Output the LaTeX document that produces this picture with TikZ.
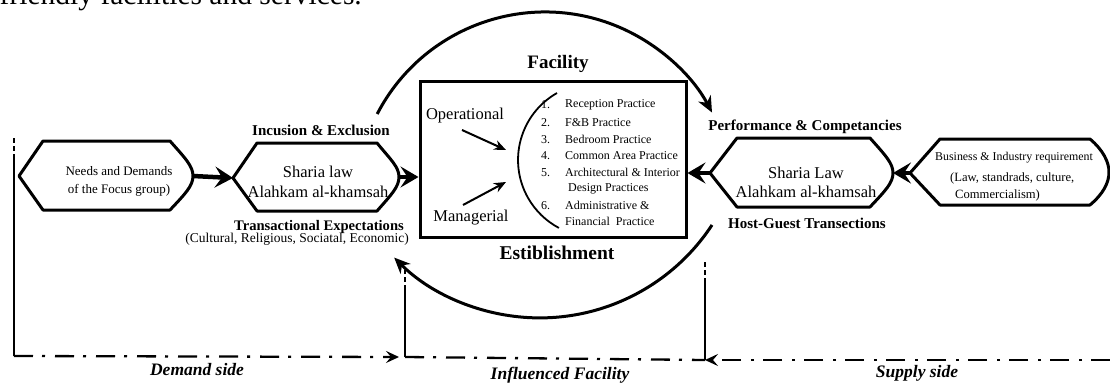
\documentclass[tikz,border=0pt]{standalone}
\usepackage{fontspec}
\setmainfont{Liberation Serif}
\usetikzlibrary{arrows.meta,calc}
\begin{document}
\begin{tikzpicture}[x=1pt,y=-1pt,
  every node/.style={inner sep=0pt},
  hexline/.style={line width=3pt,line join=round},
  fatarrow/.style={line width=4.5pt,-{Stealth[length=18pt,width=21pt,inset=7pt]}},
  arcarrow/.style={line width=3pt,-{Stealth[length=16pt,width=14pt,inset=5pt]}},
  thinarrow/.style={line width=2pt,-{Stealth[length=12pt,width=10pt,inset=4pt]}},
  dashdotline/.style={line width=2.3pt,dash pattern=on 19pt off 9pt on 3pt off 10pt},
  flowarrow/.style={dashdotline,-{Stealth[length=13pt,width=12pt,inset=5pt]}},
  shortdash/.style={line width=2pt,dash pattern=on 5pt off 3pt},
  solidv/.style={line width=2pt},
  boldlab/.style={font=\fontsize{15}{17}\selectfont\bfseries},
  biglab/.style={font=\fontsize{19.5}{22}\selectfont\bfseries},
  sidelab/.style={font=\fontsize{17.5}{20}\selectfont\bfseries\itshape},
  listitem/.style={font=\fontsize{12}{14}\selectfont,anchor=west},
  hextext/.style={font=\fontsize{16.5}{19.5}\selectfont,align=center},
]
\useasboundingbox (0,0) rectangle (1110,383);

% cut-off text at the very top
\node[anchor=base east,font=\fontsize{29.5}{32}\selectfont] (cut) at (362,4) {friendly facilities and services.};

% ---- hexagon 1
\coordinate (h1l) at (19,176);
\coordinate (h1r) at (193,176);
\draw[hexline] (h1l) -- (43,141) -- (170,141) .. controls (185,158) and (193,166) .. (h1r)
  .. controls (193,186) and (185,194) .. (170,210) -- (43,210) -- cycle;
\node[font=\fontsize{13}{18}\selectfont,align=center] (needs) at (119,181) {Needs and Demands\\of the Focus group)};

% ---- hexagon 2
\coordinate (h2l) at (233,178);
\coordinate (h2r) at (399,177);
\draw[hexline] (h2l) -- (257,143) -- (377,143) .. controls (391,160) and (399,167) .. (h2r)
  .. controls (399,187) and (391,195) .. (377,211) -- (257,211) -- cycle;
\node[hextext] (sharia1) at (318,182) {Sharia law\\Alahkam al-khamsah};
\node[boldlab] (incl) at (321,130) {Incusion \& Exclusion};
\node[boldlab,font=\fontsize{14.6}{16}\selectfont\bfseries] (trans) at (319,227) {Transactional Expectations};
\node[font=\fontsize{13.5}{15}\selectfont] (cult) at (297,239) {(Cultural, Religious, Sociatal, Economic)};

% ---- central box
\node[draw,line width=3pt,minimum width=266pt,minimum height=156pt] (box) at (553,159) {};
\node[font=\fontsize{19}{22}\selectfont\bfseries] (fac) at (558,64) {Facility};
\node[biglab] (est) at (557,253) {Estiblishment};
\node[font=\fontsize{16.5}{18}\selectfont] (oper) at (465,116) {Operational};
\node[font=\fontsize{16.5}{18}\selectfont] (mana) at (471,218) {Managerial};
\coordinate (ops) at (462,130);
\coordinate (opt) at (506,150);
\coordinate (mas) at (463,205);
\coordinate (mat) at (506,182);
\draw[thinarrow] (ops) -- (opt);
\draw[thinarrow] (mas) -- (mat);
\coordinate (ia) at (557,93);
\draw[line width=1.8pt] (ia) arc[start angle=119.6,end angle=242,radius=77pt];

\node[listitem] (n1) at (541,105) {1.};
\node[listitem] (i1) at (565,105) {Reception Practice};
\node[listitem] (n2) at (541,122.7) {2.};
\node[listitem] (i2) at (565,122.7) {F\&B Practice};
\node[listitem] (n3) at (541,139.3) {3.};
\node[listitem] (i3) at (565,139.3) {Bedroom Practice};
\node[listitem] (n4) at (541,156) {4.};
\node[listitem] (i4) at (565,156) {Common Area Practice};
\node[listitem] (n5) at (541,172.7) {5.};
\node[listitem] (i5) at (565,172.7) {Architectural \& Interior};
\node[listitem] (i5b) at (568,189) {Design Practices};
\node[listitem] (n6) at (541,205.7) {6.};
\node[listitem] (i6) at (565,205.7) {Administrative \&};
\node[listitem] (i6b) at (565,221.7) {Financial\ \ Practice};

% ---- hexagon 3
\coordinate (h3l) at (710,173);
\coordinate (h3r) at (893,173);
\draw[hexline] (h3l) -- (737,138) -- (870,138) .. controls (885,155) and (893,163) .. (h3r)
  .. controls (893,183) and (885,191) .. (870,207) -- (737,207) -- cycle;
\node[hextext,font=\fontsize{16.5}{19}\selectfont] (sharia2) at (806,182.5) {Sharia Law\\Alahkam al-khamsah};
\node[boldlab] (perf) at (805,127) {Performance \& Competancies};
\node[boldlab] (host) at (807,223) {Host-Guest Transections};

% ---- hexagon 4
\coordinate (h4l) at (910,173);
\coordinate (h4r) at (1109,172);
\draw[hexline] (h4l) -- (940,139) -- (1090,139) .. controls (1103,150) and (1109,162) .. (h4r)
  .. controls (1109,183) and (1103,194) .. (1090,205) -- (940,205) -- cycle;
\node[font=\fontsize{11.9}{14}\selectfont] (bus) at (1014,158) {Business \& Industry requirement};
\node[font=\fontsize{12.6}{14}\selectfont,anchor=west] (law) at (950,178) {(Law, standrads, culture,};
\node[font=\fontsize{12.6}{14}\selectfont,anchor=west] (com) at (955,195) {Commercialism)};

% ---- thick connectors
\draw[fatarrow] (h1r) -- (h2l);
\draw[fatarrow] (h2r) -- (h2r -| box.west);
\draw[fatarrow] (h3l) -- (h3l -| box.east);
\draw[fatarrow] (h4l) -- (h3r);

% ---- big arcs
\coordinate (ta) at (377.2,114);
\draw[arcarrow] (ta) arc[start angle=152.6,end angle=27.9,radius=189pt];
\coordinate (ba) at (712,225);
\draw[arcarrow] (ba) arc[start angle=-33.3,end angle=-135,radius=206pt];

% ---- bottom flow lines
\coordinate (vL) at (14,138);
\coordinate (vLm) at (14,158);
\coordinate (dL) at (14,356);
\coordinate (dT) at (399,357);
\draw[shortdash] (vL) -- (vLm);
\draw[solidv] (vLm) -- (dL);
\draw[flowarrow] (dL) -- (dT);

\coordinate (m1) at (405,357);
\coordinate (m1mid) at (405,290);
\coordinate (m1top) at (405,270);
\draw[solidv] (m1) -- (m1mid);
\draw[shortdash] (m1mid) -- (m1top);

\coordinate (m2) at (705,360);
\coordinate (m2mid) at (705,283);
\coordinate (m2top) at (705,260);
\draw[solidv] (m2) -- (m2mid);
\draw[shortdash] (m2mid) -- (m2top);
\draw[dashdotline] (m1) -- (m2);

\coordinate (sR) at (1110,360);
\draw[flowarrow] (sR) -- (m2);

\node[sidelab] (dem) at (197,370) {Demand side};
\node[sidelab] (inf) at (560,375) {Influenced Facility};
\node[sidelab] (sup) at (917,373) {Supply side};
\end{tikzpicture}
\end{document}
